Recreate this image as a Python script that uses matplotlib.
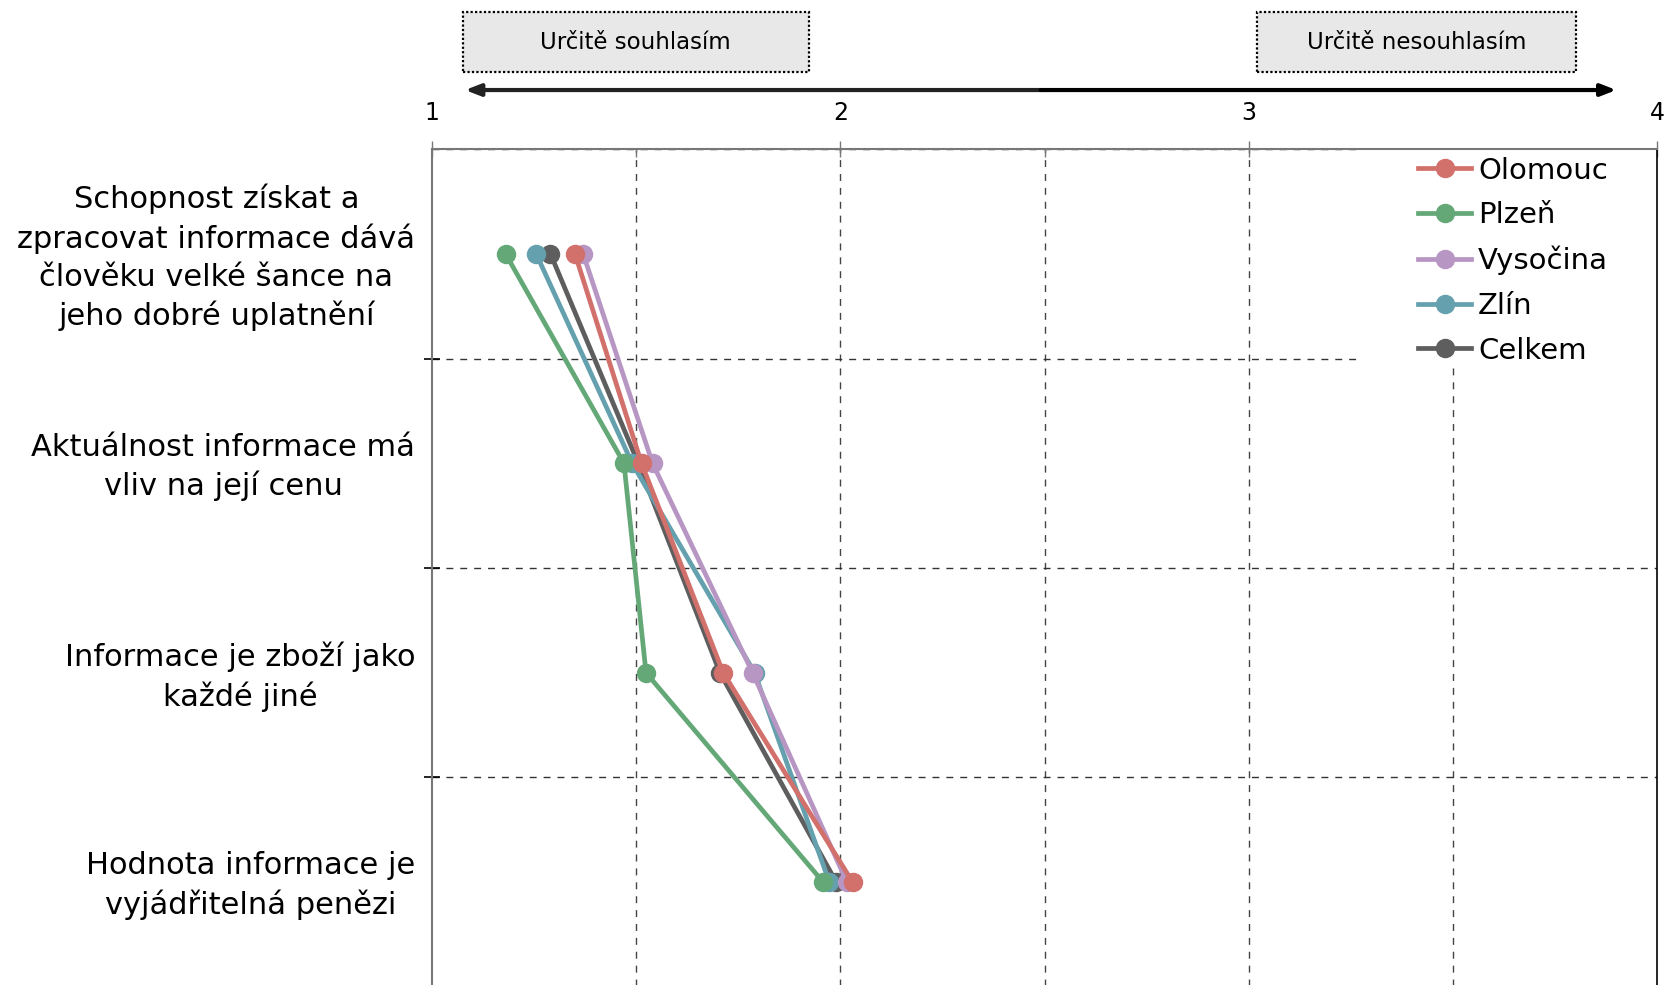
import matplotlib.pyplot as plt
import matplotlib.transforms as mtransforms
import numpy as np

plt.rcParams['font.family'] = ['DejaVu Sans']

# statements (rows, top to bottom)
statements = ['Schopnost získat a\nzpracovat informace dává\nčlověku velké šance na\njeho dobré uplatnění',
              'Aktuálnost informace má\nvliv na její cenu',
              'Informace je zboží jako\nkaždé jiné',
              'Hodnota informace je\nvyjádřitelná penězi']

regions = ['Olomouc', 'Plzeň', 'Vysočina', 'Zlín', 'Celkem']
olomouc = [1.35, 1.513, 1.713, 2.03]
plzen = [1.18, 1.47, 1.524, 1.958]
vysocina = [1.37, 1.54, 1.785, 2.016]
zlin = [1.255, 1.49, 1.79, 1.973]
celkem = [1.29, 1.505, 1.705, 1.99]
values = [olomouc, plzen, vysocina, zlin, celkem]
colors = ['#D2706B', '#64A878', '#B896C4', '#64A0AE', '#5E5E5E']

x_ticks = [1, 2, 3, 4]
scale_left = 'Určitě souhlasím'
scale_right = 'Určitě nesouhlasím'

fig = plt.figure(figsize=(16.68, 9.85), dpi=100)
ax = fig.add_axes([0.259, -0.002, 0.7345, 0.8507])

ypos = np.arange(len(statements)) + 0.5
for i, (name, vals, col) in enumerate(zip(regions, values, colors)):
    # later regions go underneath
    ax.plot(vals, ypos, '-o', color=col, lw=3.4, ms=13, label=name, zorder=10 - i)

ax.set_xlim(1, 4)
ax.set_ylim(4, 0)

ax.xaxis.tick_top()
ax.set_xticks(x_ticks)
ax.set_xticklabels([str(t) for t in x_ticks], fontsize=17)
ax.set_xticks([1.5, 2.5, 3.5], minor=True)
ax.tick_params(axis='x', which='major', direction='inout', length=12, width=1, color='#777777', pad=11)
ax.tick_params(axis='x', which='minor', direction='in', length=6, width=1, color='#777777')

ax.set_yticks([1, 2, 3])
ax.set_yticklabels([])
ax.set_yticks(ypos, minor=True)
ax.set_yticklabels(statements, minor=True, fontsize=22, linespacing=1.38)
ax.tick_params(axis='y', which='major', direction='inout', length=12, width=1.2, color='black')
ax.tick_params(axis='y', which='minor', length=0, pad=12)
shift_up = mtransforms.ScaledTranslation(0, 4 / 100, fig.dpi_scale_trans)
for lab in ax.get_yticklabels(minor=True):
    lab.set_multialignment('center')
    lab.set_transform(lab.get_transform() + shift_up)

# dashed grid
for xv in [1.5, 2, 2.5, 3, 3.5]:
    ax.axvline(xv, color='#444444', ls=(0, (5, 5)), lw=1, zorder=0.5)
for yv in [0, 1, 2, 3]:
    ax.axhline(yv, color='#333333', ls=(0, (5, 5)), lw=1, zorder=0.5)

for side in ['left', 'top']:
    ax.spines[side].set_color('#777777')
    ax.spines[side].set_linewidth(1.5)
ax.spines['right'].set_color('black')
ax.spines['right'].set_linewidth(1.2)
ax.spines['bottom'].set_visible(False)

# white area behind the legend hides the grid there
ax.add_patch(plt.Rectangle((0.759, 0.744), 0.241, 0.256, transform=ax.transAxes,
                           facecolor='white', edgecolor='none', zorder=2.3))
ax.legend(loc='upper left', bbox_to_anchor=(0.805, 0.991), fontsize=21, frameon=False,
          borderpad=0, borderaxespad=0, handlelength=1.8, handletextpad=0.25, labelspacing=0.57)

# scale boxes and arrow above the axis
def fig_x(xv):
    return ax.transData.transform((xv, 0))[0] / fig.bbox.width

for x0, x1, txt in [(1.0756, 1.9226, scale_left), (3.0198, 3.802, scale_right)]:
    xf0, xf1 = fig_x(x0), fig_x(x1)
    rect = plt.Rectangle((xf0, 0.927), xf1 - xf0, 0.061, transform=fig.transFigure,
                         facecolor='#E8E8E8', edgecolor='black', lw=1.6, ls=(0, (1, 1)))
    fig.patches.append(rect)
    fig.text((xf0 + xf1) / 2, 0.957, txt, ha='center', va='center', fontsize=16.5)

xa0, xa1 = fig_x(1.081), fig_x(3.9)
xm = (xa0 + xa1) / 2
for xe, col in [(xa0, '#222222'), (xa1, 'black')]:
    ax.annotate('', xy=(xe, 0.9086), xytext=(xm, 0.9086), xycoords='figure fraction',
                textcoords='figure fraction',
                arrowprops=dict(arrowstyle='-|>,head_length=0.9,head_width=0.35', color=col, lw=3,
                                shrinkA=0, shrinkB=0))

fig.savefig('out.png', dpi=100)
